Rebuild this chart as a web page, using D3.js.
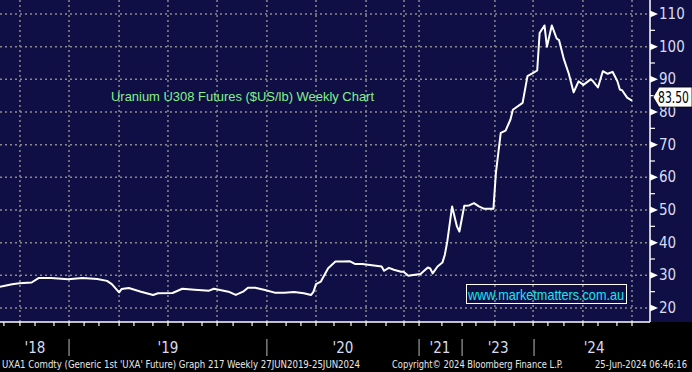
<!DOCTYPE html>
<html lang="en">
<head>
<meta charset="UTF-8">
<title>Uranium U308 Futures Weekly Chart</title>
<script src="https://d3js.org/d3.v7.min.js"></script>
<style>
    body { margin: 0; background: #000; }
    svg { display: block; }
    .grid line { stroke: #8a8a8a; stroke-width: 1.5; stroke-dasharray: 2,3; }
</style>
</head>
<body>
<div id="chart"></div>
<script>
    // weekly index (0 = 27JUN2019, 260 = 25JUN2024) and price in $US/lb
    const weeks = [0, 5, 8, 13, 16, 21, 28, 34, 40, 44, 46, 49, 50, 53, 58, 63, 65, 71,
        75, 80, 86, 88, 94, 97, 100, 102, 105, 109, 113, 117, 121, 125, 128, 129, 130, 132,
        135, 138, 141, 144, 146, 149, 153, 157, 158, 160, 162, 165, 166, 168, 170, 173, 176,
        177, 178, 180, 182, 183, 184, 186, 188, 189, 191, 193, 195, 197, 199, 203, 204, 206,
        208, 210, 211, 215, 217, 219, 221, 222, 224, 225, 227, 229, 230, 232, 234, 236, 238,
        240, 243, 244, 246, 248, 250, 252, 254, 255, 256, 258, 260];
    const prices = [26.5, 27.3, 27.6, 27.8, 29.2, 29.2, 28.8, 29.2, 28.9, 28.3, 27.3, 24.8, 25.8, 26.1, 25.0, 24.0, 24.5, 24.6,
        25.9, 25.6, 25.3, 25.9, 25.0, 24.0, 25.0, 26.2, 26.2, 25.5, 24.7, 24.7, 24.9, 24.5, 24.0, 25.0, 27.3, 28.1,
        32.2, 34.2, 34.2, 34.3, 33.5, 33.5, 33.1, 32.7, 31.4, 32.3, 31.7, 31.1, 31.1, 29.9, 30.1, 30.4, 32.4,
        32.1, 30.6, 32.7, 33.9, 36.3, 40.3, 51.1, 44.9, 43.4, 51.3, 51.4, 52.1, 51.1, 50.4, 50.4, 61.3, 73.6,
        74.3, 77.7, 80.7, 82.8, 91.0, 91.8, 92.7, 104.2, 106.5, 100.0, 106.5, 102.5, 102.0, 96.1, 91.7, 86.0, 89.4,
        88.3, 90.0, 89.4, 87.5, 92.5, 91.7, 92.3, 89.4, 86.9, 86.6, 84.4, 83.5];

    const yTicks = [20, 30, 40, 50, 60, 70, 80, 90, 100, 110];
    const yMinor = [25, 35, 45, 55, 65, 75, 85, 95, 105, 115];
    const gridWeeks = [8.2, 28.4, 49, 69.1, 89.3, 109.8, 130, 150.6, 166.2, 172.4, 203.6, 219.3, 239.8, 260];
    const tickWeeks = [1.6, 8.2, 14.4, 22.2, 28.4, 34.6, 40.7, 49, 55.1, 62.9, 69.1, 75.3, 83.1, 89.3,
        95.9, 103.7, 109.8, 117.7, 123.8, 130, 137.4, 144.4, 150.6, 158.8, 166.2, 172.4, 181.8, 190.1,
        195.8, 203.6, 211.5, 219.3, 225.4, 232, 239.8, 246, 253.8, 260];
    const yearLabels = ["'18", "'19", "'20", "'21", "'23", "'24"];
    const yearLabelWeeks = [14.4, 69.1, 141.1, 181, 204.9, 244.4];
    const yearSeparators = [28.4, 109.8, 172.4, 190.1, 219.7];
    const lastPrice = 83.5;

    const W = 692, H = 372;
    const plotRight = 650, plotBottom = 322;
    const narrow = "'Liberation Sans Narrow', 'DejaVu Sans Condensed', sans-serif";

    const svg = d3.select("#chart").append("svg")
        .attr("width", W).attr("height", H);

    // backgrounds
    svg.append("rect").attr("width", W).attr("height", H).attr("fill", "#000");
    svg.append("rect").attr("width", W).attr("height", plotBottom).attr("fill", "#0f0f45");

    const x = d3.scaleLinear().domain([0, 260]).range([0, 632]);
    const y = d3.scaleLinear().domain([20, 110]).range([308, 14]);

    // gridlines
    const grid = svg.append("g").attr("class", "grid");
    grid.selectAll(".h").data(yTicks).enter().append("line")
        .attr("x1", 0).attr("x2", plotRight)
        .attr("y1", d => y(d)).attr("y2", d => y(d));
    grid.selectAll(".v").data(gridWeeks).enter().append("line")
        .attr("x1", d => x(d)).attr("x2", d => x(d))
        .attr("y1", 0).attr("y2", plotBottom);

    // axis lines
    svg.append("line").attr("x1", 0).attr("x2", plotRight)
        .attr("y1", plotBottom).attr("y2", plotBottom)
        .attr("stroke", "#fff").attr("stroke-width", 1.5);
    svg.append("line").attr("x1", plotRight).attr("x2", plotRight)
        .attr("y1", 0).attr("y2", plotBottom)
        .attr("stroke", "#fff").attr("stroke-width", 1.5);

    // bottom ticks
    svg.selectAll(".xt").data(tickWeeks).enter().append("line")
        .attr("x1", d => x(d)).attr("x2", d => x(d))
        .attr("y1", plotBottom).attr("y2", plotBottom + 4)
        .attr("stroke", "#fff").attr("stroke-width", 1.2);

    // year separators and labels
    svg.selectAll(".sep").data(yearSeparators).enter().append("line")
        .attr("x1", d => x(d)).attr("x2", d => x(d))
        .attr("y1", 339).attr("y2", 356)
        .attr("stroke", "#bbb").attr("stroke-width", 1);
    svg.selectAll(".yl").data(yearLabels).enter().append("text")
        .attr("x", (d, i) => x(yearLabelWeeks[i]))
        .attr("y", 353)
        .attr("text-anchor", "middle")
        .attr("fill", "#d8dcf0")
        .style("font-family", narrow)
        .style("font-size", "15px")
        .text(d => d);

    // right axis: triangles, minor ticks, labels
    svg.selectAll(".tri").data(yTicks).enter().append("path")
        .attr("d", d => `M${plotRight},${y(d) - 3.5}L${plotRight + 8},${y(d)}L${plotRight},${y(d) + 3.5}Z`)
        .attr("fill", "#fff");
    svg.selectAll(".mt").data(yMinor.filter(v => y(v) > 0)).enter().append("line")
        .attr("x1", plotRight).attr("x2", plotRight + 5)
        .attr("y1", d => y(d)).attr("y2", d => y(d))
        .attr("stroke", "#fff").attr("stroke-width", 1.2);
    svg.selectAll(".ylab").data(yTicks).enter().append("text")
        .attr("x", 659)
        .attr("y", d => y(d) + 5)
        .attr("fill", "#d8dcf0")
        .style("font-family", narrow)
        .style("font-size", "15px")
        .text(d => d);

    // price line
    const line = d3.line()
        .x((d, i) => x(weeks[i]))
        .y(d => y(d));
    svg.append("path")
        .datum(prices)
        .attr("d", line)
        .attr("fill", "none")
        .attr("stroke", "#fff")
        .attr("stroke-width", 2)
        .attr("stroke-linejoin", "round");

    // last price tag
    const ty = y(lastPrice) - 3.5;
    svg.append("path")
        .attr("d", `M653,${ty}L659,${ty - 10}L692,${ty - 10}L692,${ty + 10}L659,${ty + 10}Z`)
        .attr("fill", "#fff").attr("stroke", "#000").attr("stroke-width", 0.8);
    svg.append("text")
        .attr("x", 658).attr("y", ty + 5.5)
        .attr("fill", "#000")
        .style("font-family", narrow)
        .style("font-size", "15px")
        .attr("textLength", 31)
        .attr("lengthAdjust", "spacingAndGlyphs")
        .text(lastPrice.toFixed(2));

    // title
    svg.append("text")
        .attr("x", 111).attr("y", 101)
        .attr("fill", "#86f08a")
        .style("font-family", "Arial, 'Liberation Sans', sans-serif")
        .style("font-size", "13.5px")
        .attr("textLength", 263)
        .attr("lengthAdjust", "spacingAndGlyphs")
        .text("Uranium U308 Futures ($US/lb) Weekly Chart");

    // watermark box
    svg.append("rect")
        .attr("x", 466.5).attr("y", 284.5).attr("width", 160).attr("height", 19)
        .attr("fill", "none").attr("stroke", "#fff").attr("stroke-width", 1);
    svg.append("text")
        .attr("x", 468).attr("y", 300)
        .attr("fill", "#19e6f0")
        .style("font-family", "Arial, 'Liberation Sans', sans-serif")
        .style("font-size", "15px")
        .attr("textLength", 156)
        .attr("lengthAdjust", "spacingAndGlyphs")
        .text("www.marketmatters.com.au");

    // footer
    const footer = svg.append("g")
        .style("font-family", narrow)
        .style("font-size", "11px")
        .attr("fill", "#e8e8e8");
    footer.append("text").attr("x", 2).attr("y", 368)
        .attr("textLength", 358).attr("lengthAdjust", "spacingAndGlyphs")
        .text("UXA1 Comdty (Generic 1st 'UXA' Future) Graph 217  Weekly 27JUN2019-25JUN2024");
    footer.append("text").attr("x", 392).attr("y", 368)
        .attr("textLength", 171).attr("lengthAdjust", "spacingAndGlyphs")
        .text("Copyright\u00A9 2024 Bloomberg Finance L.P.");
    footer.append("text").attr("x", 595).attr("y", 368)
        .attr("textLength", 92).attr("lengthAdjust", "spacingAndGlyphs")
        .text("25-Jun-2024 06:46:16");
</script>
</body>
</html>
